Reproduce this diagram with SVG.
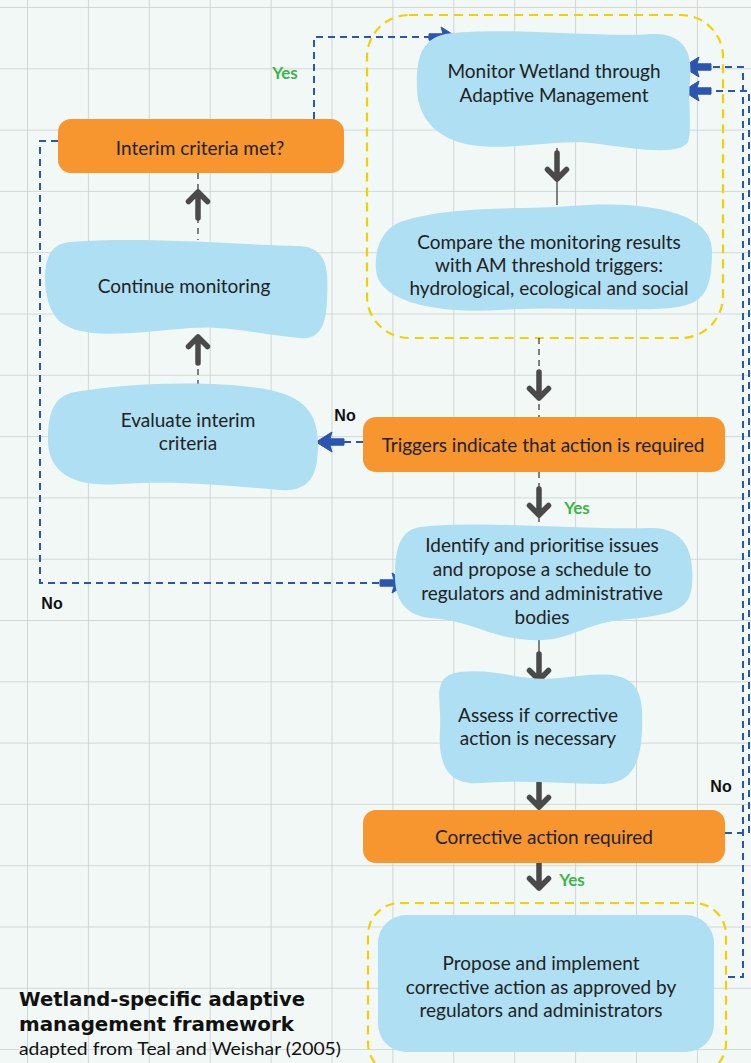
<svg xmlns="http://www.w3.org/2000/svg" xmlns:xlink="http://www.w3.org/1999/xlink" width="751" height="1063" viewBox="0 0 751 1063">
<style>
.bg{fill:#f1f8f6}
.blob{fill:#aedff2}
.dec{fill:#f7962f}
.t{font-family:Lato,"Open Sans",sans-serif;font-size:19px;fill:#222;text-anchor:middle}
.yes{font-family:Lato,sans-serif;font-weight:bold;font-size:17px;fill:#3cb54a}
.no{font-family:"Liberation Sans",Arial,sans-serif;font-weight:bold;font-size:16px;fill:#111}
.blue{fill:none;stroke:#2a55b0;stroke-width:2;stroke-dasharray:7 5}
.thin{fill:none;stroke:#333;stroke-width:1.2}
.thind{fill:none;stroke:#333;stroke-width:1.2;stroke-dasharray:6 5}
.yel{fill:none;stroke:#f6cf00;stroke-width:2.2;stroke-dasharray:9 6}
.title{font-family:"DejaVu Sans",sans-serif;font-weight:bold;font-size:19px;fill:#111}
.sub{font-family:Lato,sans-serif;font-size:18px;fill:#111}
</style>
<defs>
<pattern id="grid" patternUnits="userSpaceOnUse" x="27" y="7" width="60.9" height="61.3">
<path d="M0,0 V61.3 M0,0 H60.9" fill="none" stroke="#c9cecd" stroke-width="1.6"/>
</pattern>
<g id="dn"><path d="M0,-13 V13 M-9.5,3.5 L0,13 L9.5,3.5" fill="none" stroke="#4a4a4a" stroke-width="5.5" stroke-linecap="round" stroke-linejoin="round"/></g>
<marker id="bh" markerUnits="userSpaceOnUse" viewBox="-30 -12 32 24" refX="0" refY="0" markerWidth="32" markerHeight="24" orient="auto">
<path d="M-28,-3.2 L-14,-3.2 L-16,-10 L0,0 L-16,10 L-14,3.2 L-28,3.2 Z" fill="#2a55b0" stroke="#2a55b0" stroke-width="1" stroke-linejoin="round"/>
</marker>
</defs>
<rect class="bg" width="751" height="1063"/>
<rect width="751" height="1063" fill="url(#grid)"/>

<rect class="yel" x="367" y="15" width="356" height="323" rx="42"/>
<rect class="yel" x="368" y="903" width="358" height="172" rx="32"/>

<g id="connectors">
<path class="thin" d="M557,148 V205"/>
<path class="thind" d="M539,338 V417"/>
<path class="thind" d="M539,472 V525"/>
<path class="thin" d="M539,636 V672"/>
<path class="thin" d="M539,783 V810"/>
<path class="thin" d="M539,863 V890"/>
<path class="thind" d="M198,173 V240"/>
<path class="thind" d="M198,336 V388"/>
<use href="#dn" x="557" y="166"/>
<use href="#dn" x="539" y="385"/>
<use href="#dn" x="539" y="502"/>
<use href="#dn" x="539" y="667"/>
<use href="#dn" x="539" y="794"/>
<use href="#dn" x="539" y="875"/>
<use href="#dn" transform="translate(198,205) rotate(180)"/>
<use href="#dn" transform="translate(198,350) rotate(180)"/>
<path class="blue" d="M314,119 V37 H457" marker-end="url(#bh)"/>
<path class="blue" d="M58,141 H40 V583 H408" marker-end="url(#bh)"/>
<path class="blue" d="M363,442 H316" marker-end="url(#bh)"/>
<path class="blue" d="M728,977 H743 V67 H683" marker-end="url(#bh)"/>
<path class="blue" d="M725,833 H749 V91 H683" marker-end="url(#bh)"/>
<text class="yes" x="285" y="79" text-anchor="middle">Yes</text>
<text class="no" x="345" y="421" text-anchor="middle">No</text>
<text class="yes" x="577" y="514" text-anchor="middle">Yes</text>
<text class="no" x="52" y="609" text-anchor="middle">No</text>
<text class="no" x="721" y="792" text-anchor="middle">No</text>
<text class="yes" x="572" y="886" text-anchor="middle">Yes</text>
</g>

<g id="monitor">
<path class="blob" d="M445,34 C500,26 600,38 650,34 C690,32 692,60 690,80 C688,100 692,130 688,142 C680,155 640,150 600,144 C560,138 520,150 480,146 C440,143 418,120 417,90 C416,60 420,40 445,34 Z"/>
<text class="t" x="554" y="77.5">Monitor Wetland through</text>
<text class="t" x="554" y="101.5">Adaptive Management</text>
</g>

<g id="compare">
<path class="blob" d="M400,222 C450,205 520,210 570,206 C640,200 712,210 712,250 C712,290 705,305 670,308 C620,312 560,306 500,310 C430,314 378,300 376,270 C374,245 385,228 400,222 Z"/>
<text class="t" x="549" y="248.5">Compare the monitoring results</text>
<text class="t" x="549" y="271.5">with AM threshold triggers:</text>
<text class="t" x="549" y="294.5">hydrological, ecological and social</text>
</g>

<g id="triggers">
<rect class="dec" x="363" y="417" width="362" height="55" rx="13"/>
<text class="t" x="543" y="451.5">Triggers indicate that action is required</text>
</g>

<g id="identify">
<path class="blob" d="M420,527 C480,520 580,530 650,528 C690,527 694,560 692,585 C690,612 670,615 620,620 C580,625 570,642 530,640 C490,638 470,620 430,618 C398,615 394,590 395,570 C396,545 402,530 420,527 Z"/>
<text class="t" x="542" y="551.5">Identify and prioritise issues</text>
<text class="t" x="542" y="576">and propose a schedule to</text>
<text class="t" x="542" y="599.5">regulators and administrative</text>
<text class="t" x="542" y="623.5">bodies</text>
</g>

<g id="assess">
<path class="blob" d="M460,672 C500,668 520,682 560,678 C600,674 640,665 642,710 C643,750 640,785 600,784 C560,783 520,780 480,783 C445,786 438,760 440,730 C442,700 430,676 460,672 Z"/>
<text class="t" x="538" y="721.5">Assess if corrective</text>
<text class="t" x="538" y="744.5">action is necessary</text>
</g>

<g id="corrective">
<rect class="dec" x="363" y="810" width="362" height="53" rx="13"/>
<text class="t" x="544" y="843.5">Corrective action required</text>
</g>

<g id="propose">
<rect class="blob" x="378" y="915" width="336" height="137" rx="28"/>
<text class="t" x="541" y="969.5">Propose and implement</text>
<text class="t" x="541" y="993.5">corrective action as approved by</text>
<text class="t" x="541" y="1016.5">regulators and administrators</text>
</g>

<g id="interim">
<rect class="dec" x="58" y="119" width="286" height="54" rx="13"/>
<text class="t" x="200" y="154.5">Interim criteria met?</text>
</g>

<g id="continue">
<path class="blob" d="M70,242 C150,236 250,246 300,246 C330,248 328,275 327,300 C326,325 320,340 300,338 C260,335 230,325 190,328 C140,332 90,340 65,325 C42,312 43,270 48,258 C52,247 60,243 70,242 Z"/>
<text class="t" x="184" y="292.5">Continue monitoring</text>
</g>

<g id="evaluate">
<path class="blob" d="M75,392 C130,382 220,380 270,390 C310,398 318,420 318,445 C318,475 310,492 280,490 C230,486 180,480 120,484 C70,488 48,470 48,440 C48,410 55,396 75,392 Z"/>
<text class="t" x="188" y="426.5">Evaluate interim</text>
<text class="t" x="188" y="449.5">criteria</text>
</g>

<g id="title">
<text class="title" x="19" y="1006" textLength="286" lengthAdjust="spacingAndGlyphs">Wetland-specific adaptive</text>
<text class="title" x="19" y="1031" textLength="275" lengthAdjust="spacingAndGlyphs">management framework</text>
<text class="sub" x="19" y="1055" textLength="322" lengthAdjust="spacingAndGlyphs">adapted from Teal and Weishar (2005)</text>
</g>
</svg>
